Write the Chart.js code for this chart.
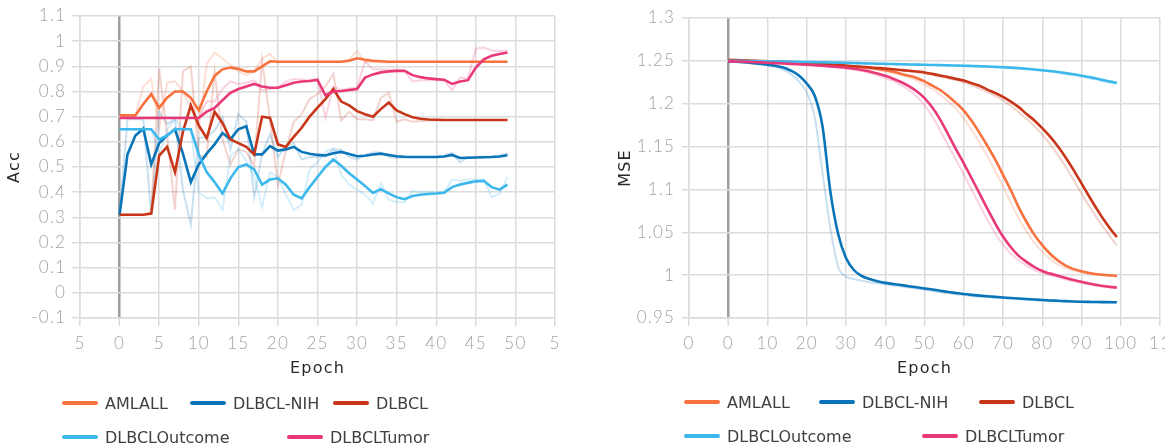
<!DOCTYPE html>
<html>
<head>
<meta charset="utf-8">
<script src="https://cdn.jsdelivr.net/npm/chart.js@4.4.1/dist/chart.umd.min.js"></script>
<style>
    html, body { margin: 0; padding: 0; background: #fff; }
    body { width: 1165px; height: 448px; position: relative; overflow: hidden; font-family: 'DejaVu Sans', sans-serif; }
    .panel { position: absolute; top: 0; height: 448px; }
    .panel canvas { position: absolute; left: 0; top: 0; }
    .legend { position: absolute; left: 0; top: 0; width: 100%; height: 100%; }
    .legend-item { position: absolute; display: flex; align-items: center; height: 20px; font-size: 16px; color: #404040; white-space: nowrap; }
    .legend-swatch { width: 36px; height: 4px; border-radius: 2px; margin-right: 7px; }
</style>
</head>
<body>
<div class="panel" style="left:0;width:560px">
    <canvas id="accChart" width="560" height="448"></canvas>
    <div class="legend" id="accLegend"></div>
</div>
<div class="panel" style="left:610px;width:555px">
    <canvas id="mseChart" width="555" height="448"></canvas>
    <div class="legend" id="mseLegend"></div>
</div>
<script>
// Dados do gráfico de acurácia (esquerda)
const accEpochs = [0,1,2,3,4,5,6,7,8,9,10,11,12,13,14,15,16,17,18,19,20,21,22,23,24,25,26,27,28,29,30,31,32,33,34,35,36,37,38,39,40,41,42,43,44,45,46,47,48,49];
const accTickOverrides = { '-5': '5', '55': '5' };

const accAmlall = [0.705,0.705,0.705,0.75,0.79,0.735,0.775,0.80,0.80,0.775,
    0.725,0.80,0.862,0.888,0.895,0.89,0.88,0.88,0.90,0.92,
    0.918,0.918,0.918,0.918,0.918,0.918,0.918,0.918,0.918,0.922,
    0.932,0.926,0.922,0.92,0.918,0.918,0.918,0.918,0.918,0.918,
    0.918,0.918,0.918,0.918,0.918,0.918,0.918,0.918,0.918,0.918];
const accAmlallRaw = [0.705,0.705,0.705,0.82,0.85,0.65,0.835,0.84,0.80,0.74,
    0.65,0.91,0.955,0.93,0.905,0.88,0.865,0.88,0.93,0.95,
    0.915,0.918,0.918,0.918,0.918,0.918,0.918,0.918,0.918,0.928,
    0.96,0.917,0.916,0.917,0.915,0.918,0.918,0.918,0.918,0.918,
    0.918,0.918,0.918,0.918,0.918,0.918,0.918,0.918,0.918,0.918];

const accNih = [0.31,0.55,0.625,0.652,0.51,0.595,0.625,0.65,0.553,0.44,
    0.51,0.553,0.59,0.635,0.61,0.65,0.662,0.55,0.55,0.583,
    0.565,0.57,0.58,0.56,0.553,0.548,0.546,0.555,0.56,0.552,
    0.543,0.545,0.55,0.553,0.548,0.543,0.541,0.54,0.54,0.54,
    0.54,0.542,0.548,0.536,0.537,0.538,0.539,0.54,0.542,0.547];
const accNihRaw = [0.31,0.69,0.69,0.69,0.31,0.72,0.67,0.69,0.41,0.27,
    0.615,0.62,0.645,0.70,0.57,0.71,0.68,0.38,0.55,0.63,
    0.54,0.58,0.595,0.53,0.54,0.54,0.543,0.57,0.568,0.54,
    0.53,0.548,0.558,0.558,0.54,0.536,0.538,0.539,0.54,0.54,
    0.54,0.545,0.557,0.518,0.539,0.54,0.541,0.542,0.545,0.555];

const accDlbcl = [0.31,0.31,0.31,0.31,0.315,0.545,0.58,0.48,0.64,0.745,
    0.665,0.615,0.72,0.675,0.61,0.595,0.58,0.55,0.70,0.695,
    0.59,0.58,0.62,0.656,0.70,0.736,0.77,0.81,0.76,0.745,
    0.722,0.71,0.70,0.73,0.756,0.725,0.71,0.698,0.692,0.689,
    0.688,0.687,0.687,0.687,0.687,0.687,0.687,0.687,0.687,0.687];
const accDlbclRaw = [0.31,0.31,0.31,0.31,0.32,0.89,0.63,0.33,0.88,0.90,
    0.545,0.54,0.88,0.61,0.51,0.57,0.56,0.505,0.925,0.69,
    0.43,0.565,0.68,0.71,0.77,0.79,0.82,0.87,0.685,0.72,
    0.69,0.69,0.685,0.775,0.795,0.68,0.69,0.68,0.683,0.685,
    0.686,0.686,0.687,0.687,0.687,0.687,0.687,0.687,0.687,0.687];

const accOutcome = [0.65,0.65,0.65,0.65,0.65,0.61,0.625,0.65,0.65,0.65,
    0.55,0.48,0.44,0.395,0.455,0.50,0.51,0.49,0.43,0.45,
    0.455,0.43,0.39,0.375,0.42,0.46,0.50,0.53,0.505,0.475,
    0.45,0.425,0.397,0.412,0.395,0.38,0.372,0.385,0.39,0.393,
    0.395,0.398,0.42,0.43,0.437,0.443,0.445,0.42,0.41,0.43];
const accOutcomeRaw = [0.65,0.65,0.65,0.65,0.65,0.55,0.65,0.69,0.65,0.65,
    0.40,0.375,0.38,0.33,0.545,0.57,0.525,0.46,0.34,0.48,
    0.46,0.39,0.33,0.35,0.49,0.52,0.56,0.575,0.47,0.43,
    0.41,0.39,0.355,0.435,0.37,0.36,0.36,0.405,0.40,0.40,
    0.40,0.40,0.45,0.445,0.45,0.45,0.45,0.38,0.395,0.46];

const accTumor = [0.695,0.695,0.695,0.695,0.695,0.695,0.695,0.695,0.695,0.695,
    0.695,0.72,0.735,0.765,0.795,0.81,0.82,0.83,0.82,0.815,
    0.815,0.825,0.835,0.84,0.842,0.846,0.785,0.80,0.802,0.806,
    0.81,0.855,0.868,0.876,0.88,0.882,0.882,0.865,0.857,0.852,
    0.849,0.847,0.83,0.84,0.845,0.895,0.928,0.942,0.949,0.955];
const accTumorRaw = [0.695,0.695,0.695,0.695,0.695,0.695,0.695,0.695,0.695,0.695,
    0.695,0.76,0.76,0.81,0.84,0.83,0.835,0.845,0.805,0.81,
    0.815,0.84,0.85,0.848,0.845,0.852,0.695,0.82,0.805,0.812,
    0.816,0.92,0.888,0.888,0.886,0.885,0.882,0.84,0.845,0.845,
    0.845,0.844,0.805,0.855,0.853,0.97,0.975,0.963,0.96,0.964];

// Dados do gráfico de MSE (direita)
const mseEpochs = [0,2,4,6,8,10,12,14,16,18,20,22,24,26,28,30,32,34,36,38,40,42,44,46,48,
    50,52,54,56,58,60,62,64,66,68,70,72,74,76,78,80,82,84,86,88,90,92,94,96,98,99];
const mseTickOverrides = { '-10': '0', '110': '11' };

const mseAmlall = [1.251,1.2507,1.2503,1.2499,1.2494,1.249,1.2485,1.248,1.2475,1.247,
    1.2465,1.246,1.2455,1.245,1.2445,1.244,1.2433,1.2425,1.2416,1.2405,
    1.239,1.2372,1.235,1.2327,1.230,1.226,1.221,1.216,1.209,1.201,
    1.192,1.180,1.166,1.151,1.135,1.117,1.099,1.079,1.062,1.047,
    1.035,1.025,1.017,1.011,1.007,1.0045,1.0025,1.001,1.0002,0.9995,0.999];
const mseAmlallRaw = [1.2508,1.2504,1.25,1.2495,1.2491,1.2486,1.2481,1.2476,1.2471,1.2466,
    1.2461,1.2456,1.2451,1.2446,1.2441,1.2435,1.2427,1.2418,1.2408,1.2394,
    1.2376,1.2355,1.2333,1.2307,1.227,1.2222,1.2172,1.2107,1.203,1.1943,
    1.183,1.1695,1.1547,1.139,1.1215,1.1035,1.084,1.0663,1.0508,1.038,
    1.0275,1.019,1.0125,1.008,1.005,1.003,1.0014,1.0004,0.9997,0.9991,0.9988];

const mseNih = [1.2493,1.249,1.2484,1.2476,1.2467,1.2456,1.2443,1.2422,1.2385,1.233,
    1.2235,1.2095,1.174,1.098,1.048,1.02,1.006,0.999,0.9955,0.993,
    0.991,0.9897,0.9884,0.9871,0.9858,0.9845,0.9832,0.9818,0.9804,0.9792,
    0.978,0.977,0.9761,0.9753,0.9746,0.974,0.9734,0.9728,0.9722,0.9716,
    0.971,0.9705,0.9701,0.9697,0.9693,0.969,0.9688,0.9686,0.9685,0.9684,0.9683];
const mseNihRaw = [1.2491,1.2486,1.2478,1.2469,1.2459,1.2446,1.2428,1.2395,1.2345,1.226,
    1.213,1.185,1.12,1.055,1.01,0.9985,0.9955,0.9935,0.9918,0.9905,
    0.9893,0.988,0.9868,0.9855,0.9842,0.9829,0.9815,0.9801,0.9789,0.9777,
    0.9767,0.9758,0.975,0.9744,0.9738,0.9732,0.9726,0.972,0.9714,0.9708,
    0.9703,0.9699,0.9695,0.9691,0.9688,0.9686,0.9685,0.9684,0.9683,0.9682,0.9682];

const mseDlbcl = [1.251,1.2508,1.2505,1.2502,1.2499,1.2495,1.2492,1.2489,1.2485,1.248,
    1.2475,1.247,1.2464,1.2458,1.2452,1.2445,1.2438,1.2431,1.2424,1.2417,
    1.241,1.2402,1.2393,1.2384,1.2375,1.2365,1.2348,1.233,1.231,1.229,
    1.227,1.224,1.221,1.2165,1.2125,1.208,1.2025,1.196,1.188,1.1805,
    1.1715,1.1615,1.15,1.137,1.1225,1.107,1.0915,1.0765,1.0625,1.050,1.0445];
const mseDlbclRaw = [1.2508,1.2506,1.2503,1.25,1.2496,1.2493,1.249,1.2486,1.2481,1.2476,
    1.2471,1.2466,1.2459,1.2454,1.2447,1.244,1.2433,1.2426,1.2419,1.2412,
    1.2404,1.2395,1.2386,1.2377,1.2367,1.2352,1.2334,1.2315,1.2295,1.2275,
    1.2248,1.2218,1.2176,1.2135,1.2091,1.2039,1.1976,1.19,1.1824,1.1738,
    1.164,1.1529,1.1403,1.1261,1.1109,1.0954,1.0803,1.066,1.0531,1.0405,1.035];

const mseOutcome = [1.2501,1.25,1.2499,1.2498,1.2496,1.2495,1.2493,1.2492,1.249,1.2488,
    1.2487,1.2485,1.2483,1.2481,1.2479,1.2477,1.2475,1.2472,1.247,1.2467,
    1.2465,1.2463,1.2461,1.2458,1.2456,1.2454,1.2452,1.245,1.2447,1.2445,
    1.2443,1.244,1.2437,1.2434,1.243,1.2426,1.2421,1.2415,1.2408,1.24,
    1.2391,1.2381,1.237,1.2357,1.2343,1.2327,1.231,1.2291,1.227,1.2252,1.2243];
const mseOutcomeRaw = [1.25,1.2499,1.2498,1.2497,1.2495,1.2494,1.2492,1.2491,1.2489,1.2487,
    1.2486,1.2484,1.2482,1.248,1.2478,1.2476,1.2473,1.2471,1.2468,1.2466,
    1.2464,1.2462,1.2459,1.2457,1.2455,1.2453,1.2451,1.2448,1.2446,1.2444,
    1.2441,1.2438,1.2435,1.2431,1.2427,1.2422,1.2417,1.241,1.2402,1.2393,
    1.2383,1.2373,1.236,1.2347,1.2331,1.2314,1.2296,1.2276,1.2256,1.2238,1.2229];

const mseTumor = [1.2495,1.2492,1.2489,1.2486,1.2482,1.2478,1.2474,1.247,1.2465,1.246,
    1.2455,1.2449,1.2443,1.2436,1.2428,1.242,1.2408,1.2393,1.2375,1.2352,
    1.2325,1.2292,1.2253,1.2205,1.2145,1.2065,1.1955,1.1815,1.1645,1.147,
    1.1305,1.113,1.0955,1.0775,1.0605,1.045,1.0325,1.0225,1.0155,1.0095,
    1.0048,1.0018,0.9993,0.9968,0.9944,0.9922,0.9902,0.9884,0.987,0.986,0.9855];
const mseTumorRaw = [1.2493,1.249,1.2487,1.2483,1.2479,1.2475,1.2471,1.2466,1.2461,1.2456,
    1.245,1.2445,1.2438,1.243,1.2422,1.2411,1.2397,1.238,1.2358,1.2332,
    1.23,1.2263,1.2217,1.216,1.2085,1.1983,1.185,1.1688,1.1514,1.1346,
    1.1174,1.0999,1.082,1.0648,1.0489,1.0356,1.025,1.0173,1.011,1.006,
    1.0026,0.9999,0.9974,0.995,0.9928,0.9907,0.9888,0.9874,0.9862,0.9856,0.9852];

// Nomes e cores das séries
const seriesNames = ['AMLALL', 'DLBCL-NIH', 'DLBCL', 'DLBCLOutcome', 'DLBCLTumor'];
const seriesColors = ['#F7723E', '#0A74B9', '#C8361A', '#3DB8EC', '#E9387A'];

// Posição dos itens da legenda (x do traço, centro y)
const accLegendSlots = [[62, 403], [190, 403], [333, 403], [62, 437], [287, 437]];
const mseLegendSlots = [[74, 402], [209, 402], [369, 402], [74, 436], [312, 436]];

const GRID_COLOR = '#dcdcdc';
const ZERO_COLOR = '#9e9e9e';
const TICK_COLOR = '#a2a2a2';

Chart.defaults.font.family = "'DejaVu Sans', sans-serif";

// Espaçamento entre letras dos textos do canvas (rótulos largos do original)
const letterSpacingPlugin = {
    id: 'letterSpacing',
    beforeDraw(chart) {
        chart.ctx.letterSpacing = '1.2px';
    }
};

/**
 * Converte uma cor hex para rgba com transparência
 */
function fade(hex, alpha) {
    const r = parseInt(hex.slice(1, 3), 16);
    const g = parseInt(hex.slice(3, 5), 16);
    const b = parseInt(hex.slice(5, 7), 16);
    return `rgba(${r}, ${g}, ${b}, ${alpha})`;
}

/**
 * Classe responsável por montar os dois gráficos
 */
class TrainingCharts {
    constructor() {
        this.charts = {};
    }

    /**
     * Monta datasets (linha bruta clara + linha suavizada)
     */
    buildDatasets(epochs, smoothed, raw, curved) {
        const datasets = [];
        const count = smoothed.length;

        smoothed.forEach((values, i) => {
            datasets.push({
                label: seriesNames[i],
                data: epochs.map((epoch, j) => ({ x: epoch, y: values[j] })),
                borderColor: seriesColors[i],
                borderWidth: 2.6,
                pointRadius: 0,
                tension: 0,
                cubicInterpolationMode: curved ? 'monotone' : 'default',
                order: count - i,
                isRaw: false
            });
        });

        raw.forEach((values, i) => {
            datasets.push({
                label: seriesNames[i] + ' (raw)',
                data: epochs.map((epoch, j) => ({ x: epoch, y: values[j] })),
                borderColor: fade(seriesColors[i], 0.22),
                borderWidth: 2,
                pointRadius: 0,
                tension: 0,
                cubicInterpolationMode: curved ? 'monotone' : 'default',
                order: 100 + count - i,
                isRaw: true
            });
        });

        return datasets;
    }

    /**
     * Opções comuns de eixo
     */
    axisOptions(cfg) {
        const gridColor = (ctx) => (ctx.tick && ctx.tick.value === 0 ? ZERO_COLOR : GRID_COLOR);
        const gridWidth = (ctx) => (ctx.tick && ctx.tick.value === 0 ? 2.5 : 1.5);
        const tickFont = { family: 'Lato', weight: 300, size: 17 };

        return {
            x: {
                type: 'linear',
                min: cfg.xMin,
                max: cfg.xMax,
                grid: { color: gridColor, lineWidth: gridWidth, tickLength: 8, tickColor: GRID_COLOR, tickWidth: 1.5 },
                border: { color: GRID_COLOR, width: 1.5 },
                ticks: {
                    stepSize: cfg.xStep,
                    padding: 7,
                    color: TICK_COLOR,
                    font: tickFont,
                    maxRotation: 0,
                    callback: (value) => cfg.xOverrides[String(value)] ?? String(value)
                },
                title: {
                    display: true,
                    text: 'Epoch',
                    color: '#2a2a2a',
                    font: { size: 16 },
                    padding: { top: 0, bottom: 0 }
                },
                afterFit: (scale) => {
                    scale.height = 60;
                    scale.paddingLeft = 0;
                    scale.paddingRight = 0;
                }
            },
            y: {
                min: cfg.yMin,
                max: cfg.yMax,
                grid: { color: gridColor, lineWidth: gridWidth, tickLength: cfg.yTickLength, tickColor: GRID_COLOR, tickWidth: 1.5 },
                border: { color: GRID_COLOR, width: 1.5 },
                ticks: {
                    stepSize: cfg.yStep,
                    padding: cfg.yTickPadding,
                    color: TICK_COLOR,
                    font: tickFont,
                    callback: (value) => String(Math.round(value * 100) / 100)
                },
                title: {
                    display: true,
                    text: cfg.yTitle,
                    color: '#2a2a2a',
                    font: { size: 16 },
                    padding: { top: cfg.yTitlePadding, bottom: 0 }
                },
                afterFit: (scale) => {
                    scale.width = cfg.yWidth;
                    scale.paddingTop = 0;
                    scale.paddingBottom = 0;
                }
            }
        };
    }

    /**
     * Cria um gráfico de linhas
     */
    createChart(canvasId, datasets, cfg) {
        const canvas = document.getElementById(canvasId);
        return new Chart(canvas, {
            type: 'line',
            data: { datasets },
            options: {
                responsive: false,
                animation: false,
                layout: { padding: cfg.padding },
                scales: this.axisOptions(cfg),
                plugins: {
                    legend: { display: false },
                    tooltip: { enabled: false }
                }
            },
            plugins: [letterSpacingPlugin]
        });
    }

    /**
     * Desenha a legenda em HTML a partir dos datasets do gráfico
     */
    renderLegend(chart, containerId, slots) {
        const container = document.getElementById(containerId);
        const items = chart.data.datasets.filter(ds => !ds.isRaw);

        items.forEach((ds, i) => {
            const [left, centerY] = slots[i];
            const item = document.createElement('div');
            item.className = 'legend-item';
            item.style.left = left + 'px';
            item.style.top = (centerY - 10) + 'px';

            const swatch = document.createElement('span');
            swatch.className = 'legend-swatch';
            swatch.style.background = ds.borderColor;

            const text = document.createElement('span');
            text.textContent = ds.label;

            item.appendChild(swatch);
            item.appendChild(text);
            container.appendChild(item);
        });
    }

    init() {
        // Gráfico de acurácia
        const accDatasets = this.buildDatasets(
            accEpochs,
            [accAmlall, accNih, accDlbcl, accOutcome, accTumor],
            [accAmlallRaw, accNihRaw, accDlbclRaw, accOutcomeRaw, accTumorRaw],
            false
        );
        this.charts.acc = this.createChart('accChart', accDatasets, {
            xMin: -5, xMax: 55, xStep: 5, xOverrides: accTickOverrides,
            yMin: -0.1, yMax: 1.1, yStep: 0.1, yTitle: 'Acc',
            yWidth: 80, yTickLength: 8, yTickPadding: 6, yTitlePadding: 5,
            padding: { top: 16, right: 5, bottom: 70, left: 0 }
        });
        this.renderLegend(this.charts.acc, 'accLegend', accLegendSlots);

        // Gráfico de MSE
        const mseDatasets = this.buildDatasets(
            mseEpochs,
            [mseAmlall, mseNih, mseDlbcl, mseOutcome, mseTumor],
            [mseAmlallRaw, mseNihRaw, mseDlbclRaw, mseOutcomeRaw, mseTumorRaw],
            true
        );
        this.charts.mse = this.createChart('mseChart', mseDatasets, {
            xMin: -10, xMax: 110, xStep: 10, xOverrides: mseTickOverrides,
            yMin: 0.95, yMax: 1.3, yStep: 0.05, yTitle: 'MSE',
            yWidth: 79, yTickLength: 7, yTickPadding: 7, yTitlePadding: 6,
            padding: { top: 18, right: 5, bottom: 70, left: 0 }
        });
        this.renderLegend(this.charts.mse, 'mseLegend', mseLegendSlots);
    }
}

new TrainingCharts().init();
</script>
</body>
</html>
